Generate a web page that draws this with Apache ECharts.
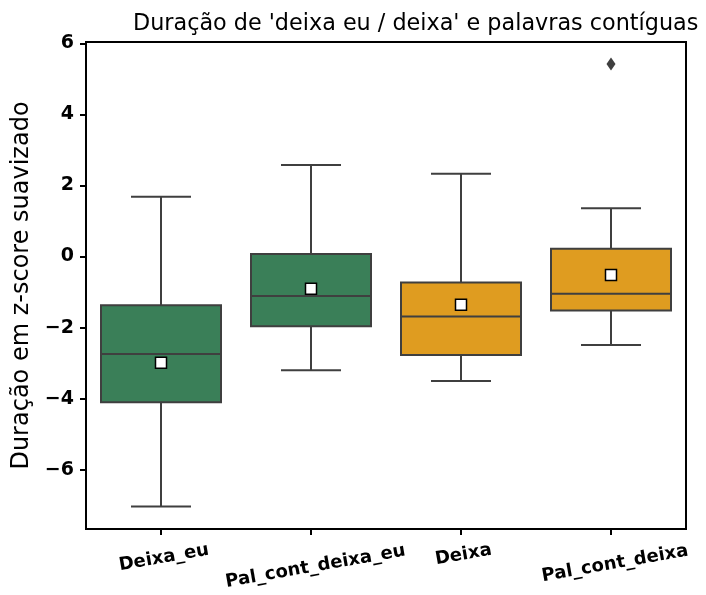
<!DOCTYPE html>
<html>
<head>
<meta charset="utf-8">
<script src="https://cdn.jsdelivr.net/npm/echarts@6/dist/echarts.min.js"></script>
<style>
html,body{margin:0;padding:0;background:#fff;}
#main{width:706px;height:595px;}
</style>
</head>
<body>
<div id="main"></div>
<script>
// ---- data ----
const categories = ['Deixa_eu', 'Pal_cont_deixa_eu', 'Deixa', 'Pal_cont_deixa'];
// [lower whisker, Q1, median, Q3, upper whisker]
const boxStats = [
  [-7.04, -4.10, -2.74, -1.37, 1.68],
  [-3.20, -1.96, -1.11, 0.07, 2.58],
  [-3.50, -2.77, -1.69, -0.73, 2.33],
  [-2.49, -1.52, -1.05, 0.22, 1.36]
];
const means = [-2.99, -0.91, -1.36, -0.52];
const outliers = [[3, 5.42]];
const boxColors = ['#3a7f58', '#3a7f58', '#df9c20', '#df9c20'];
const yTicks = [-6, -4, -2, 0, 2, 4, 6];
const yMin = -7.67, yMax = 6.04;

const lineColor = '#3f3f3f';
const labelDrop = [8, 17, 5, 14];
const chart = echarts.init(document.getElementById('main'), null, {renderer: 'canvas'});

const boxData = boxStats.map((s, i) => [i].concat(s));

function renderBox(params, api) {
  const i = api.value(0);
  const lo = api.coord([i, api.value(1)]);
  const q1 = api.coord([i, api.value(2)]);
  const med = api.coord([i, api.value(3)]);
  const q3 = api.coord([i, api.value(4)]);
  const hi = api.coord([i, api.value(5)]);
  const band = api.size([1, 0])[0];
  const bw = band * 0.8, cw = band * 0.4;
  const x = lo[0];
  const ls = {stroke: lineColor, lineWidth: 2};
  return {
    type: 'group',
    children: [
      {type: 'line', shape: {x1: x, y1: q3[1], x2: x, y2: hi[1]}, style: ls},
      {type: 'line', shape: {x1: x, y1: q1[1], x2: x, y2: lo[1]}, style: ls},
      {type: 'line', shape: {x1: x - cw / 2, y1: hi[1], x2: x + cw / 2, y2: hi[1]}, style: ls},
      {type: 'line', shape: {x1: x - cw / 2, y1: lo[1], x2: x + cw / 2, y2: lo[1]}, style: ls},
      {type: 'rect', shape: {x: x - bw / 2, y: q3[1], width: bw, height: q1[1] - q3[1]},
        style: {fill: boxColors[i], stroke: lineColor, lineWidth: 2}},
      {type: 'line', shape: {x1: x - bw / 2, y1: med[1], x2: x + bw / 2, y2: med[1]}, style: ls}
    ]
  };
}

const option = {
  animation: false,
  backgroundColor: '#fff',
  title: {
    text: "Duração de 'deixa eu / deixa' e palavras contíguas",
    left: 133, top: 13, padding: 0,
    textStyle: {fontFamily: 'DejaVu Sans', fontSize: 22.3, fontWeight: 'normal', color: '#000'}
  },
  grid: {left: 86, right: 20, top: 42, bottom: 66, show: true, borderColor: '#000', borderWidth: 2, backgroundColor: 'transparent'},
  xAxis: {
    type: 'category',
    data: categories.map((c, i) => ({
      value: c,
      textStyle: {align: 'center', verticalAlign: 'top', padding: [labelDrop[i], 0, 0, 0]}
    })),
    boundaryGap: true,
    axisLine: {show: true, onZero: false, lineStyle: {color: '#000', width: 2}},
    axisTick: {show: true, alignWithLabel: true, length: 6, lineStyle: {color: '#000', width: 2}},
    axisLabel: {
      rotate: 10, align: 'center', verticalAlign: 'top', margin: 12,
      fontFamily: 'DejaVu Sans', fontWeight: 'bold', fontSize: 18, color: '#000', interval: 0
    },
    splitLine: {show: false}
  },
  yAxis: {
    type: 'value',
    min: yMin, max: yMax,
    name: 'Duração em z-score suavizado',
    nameLocation: 'middle', nameGap: 52,
    nameTextStyle: {fontFamily: 'DejaVu Sans', fontSize: 24, color: '#000'},
    axisLine: {show: true, lineStyle: {color: '#000', width: 2}},
    axisTick: {show: true, length: 6, lineStyle: {color: '#000', width: 2}, customValues: yTicks},
    axisLabel: {
      customValues: yTicks, margin: 12,
      fontFamily: 'DejaVu Sans', fontWeight: 'bold', fontSize: 19, color: '#000',
      formatter: v => String(v).replace('-', '\u2212')
    },
    splitLine: {show: false}
  },
  series: [
    {
      type: 'custom',
      renderItem: renderBox,
      encode: {x: 0, y: [1, 2, 3, 4, 5]},
      data: boxData,
      z: 2
    },
    {
      type: 'scatter',
      data: means.map((m, i) => [i, m]),
      symbol: 'rect', symbolSize: 11,
      itemStyle: {color: '#fff', borderColor: '#000', borderWidth: 1.5, opacity: 1},
      z: 5
    },
    {
      type: 'scatter',
      data: outliers,
      symbol: 'diamond', symbolSize: [9, 13],
      itemStyle: {color: lineColor, opacity: 1},
      z: 5
    }
  ]
};
chart.setOption(option);
</script>
</body>
</html>
